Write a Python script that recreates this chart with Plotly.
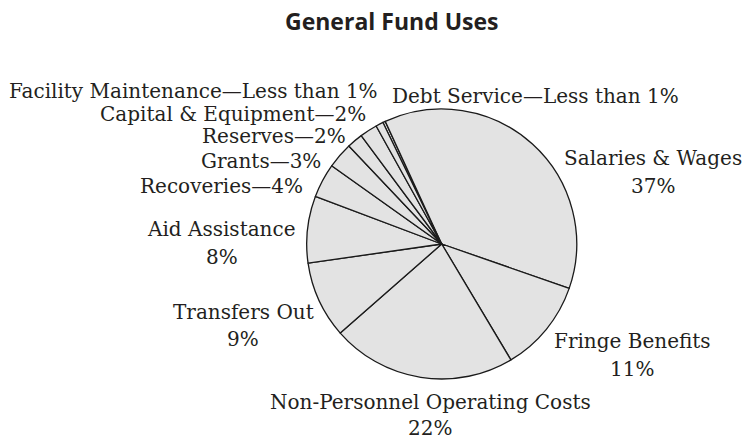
import plotly.graph_objects as go

# ---- data ----
labels = ["Debt Service", "Salaries & Wages", "Fringe Benefits",
          "Non-Personnel Operating Costs", "Transfers Out", "Aid Assistance",
          "Recoveries", "Grants", "Reserves", "Capital & Equipment",
          "Facility Maintenance"]
values = [0.3, 37.2, 11.1, 22.1, 9.2, 8.0, 4.1, 3.1, 1.9, 2.1, 0.9]
pct_text = ["Less than 1%", "37%", "11%", "22%", "9%", "8%",
            "4%", "3%", "2%", "2%", "Less than 1%"]

W, H = 746, 439
TXT = "#231f20"
SERIF = "DejaVu Serif"
FS = 20

# ---- label placement (pixels): style, x, baseline(s) ----
place = {
    "Debt Service": ("L", 390, [102]),
    "Salaries & Wages": ("C", 653, [164, 192]),
    "Fringe Benefits": ("C", 632, [347, 375]),
    "Non-Personnel Operating Costs": ("C", 430, [408, 434]),
    "Transfers Out": ("C", 243, [318, 345]),
    "Aid Assistance": ("C", 222, [235, 263]),
    "Recoveries": ("R", 305, [192]),
    "Grants": ("R", 323, [167]),
    "Reserves": ("R", 348, [142]),
    "Capital & Equipment": ("R", 368, [120]),
    "Facility Maintenance": ("R", 380, [97]),
}

cx, cy, r = 441.7, 244.0, 135.0

fig = go.Figure(go.Pie(
    labels=labels,
    values=values,
    sort=False,
    direction="clockwise",
    rotation=-25.8,
    textinfo="none",
    hoverinfo="label+percent",
    marker=dict(colors=["#e3e3e3"] * len(labels),
                line=dict(color="#1a1a1a", width=1.3)),
    domain=dict(x=[(cx - r) / W, (cx + r) / W],
                y=[1 - (cy + r) / H, 1 - (cy - r) / H]),
    showlegend=False,
))

def py(v):
    return 1 - v / H

annotations = []
off = 0.3 * FS
for lab, pct in zip(labels, pct_text):
    style, x, bases = place[lab]
    if style in ("L", "R"):
        annotations.append(dict(
            text=f"{lab}—{pct}", x=x / W, y=py(bases[0] - off),
            xref="paper", yref="paper", showarrow=False,
            xanchor="left" if style == "L" else "right", yanchor="middle",
            font=dict(family=SERIF, size=FS, color=TXT)))
    else:
        for t, b in zip([lab, pct], bases):
            annotations.append(dict(
                text=t, x=x / W, y=py(b - off),
                xref="paper", yref="paper", showarrow=False,
                xanchor="center", yanchor="middle",
                font=dict(family=SERIF, size=FS, color=TXT)))

annotations.append(dict(
    text="<b>General Fund Uses</b>", x=392 / W, y=py(21),
    xref="paper", yref="paper", showarrow=False,
    xanchor="center", yanchor="middle",
    font=dict(family="Open Sans", size=23, color=TXT)))

fig.update_layout(
    width=W, height=H,
    margin=dict(l=0, r=0, t=0, b=0),
    paper_bgcolor="white", plot_bgcolor="white",
    annotations=annotations,
)

fig.write_html("out.html",
               config={"displayModeBar": False},
               post_script="document.body.style.margin='0px';"
                           "document.body.style.overflow='hidden';")
